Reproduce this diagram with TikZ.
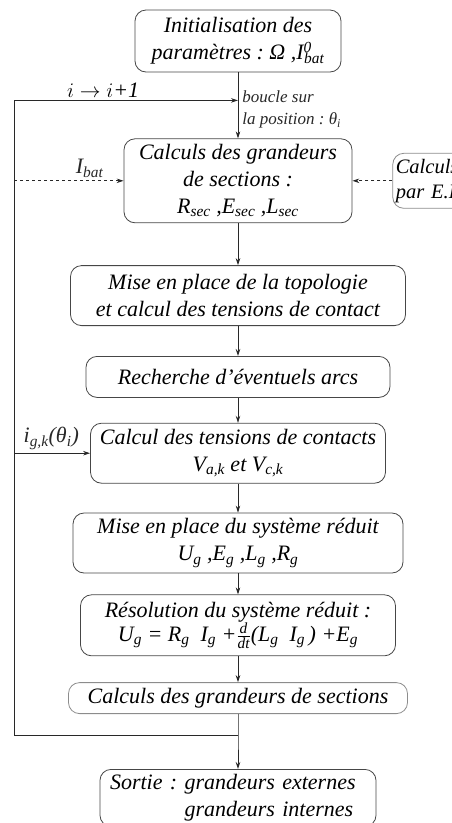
\documentclass[tikz,border=0pt]{standalone}
\usepackage{amsmath}
\usepackage{fontspec}
\setmainfont{Liberation Serif}
\usepackage{tikz}
\usetikzlibrary{arrows.meta, positioning, calc}
\definecolor{cline}{RGB}{40,40,40}
\definecolor{cedge}{RGB}{70,70,70}
\definecolor{cpale}{RGB}{140,140,140}
\newcommand{\sbs}[2]{#1\textsubscript{#2}}
\frenchspacing

\begin{document}
\begin{tikzpicture}[
  node distance = 30pt and 40pt,
  box/.style    = {rectangle, rounded corners=11pt, draw=cedge, line width=0.8pt,
                   align=center, inner sep=2pt,
                   font=\fontsize{22}{27}\selectfont\itshape},
  palebox/.style = {box, draw=cpale},
  arr/.style    = {-{Stealth[length=7pt, width=4.5pt]}, line width=0.8pt, cline},
  lbl/.style    = {font=\fontsize{22}{27}\selectfont\itshape, inner sep=3pt},
  sublbl/.style = {font=\fontsize{17}{22}\selectfont\itshape, inner sep=4pt},
]
\useasboundingbox (0,0) rectangle (451pt,-823pt);

%% --- main column ---
\node[box, minimum width=206pt, minimum height=62pt] (init) at (238pt,-41pt)
  {Initialisation des\\paramètres : Ω ,I\textsuperscript{\rlap{0}}\textsubscript{bat}};
\node[box, minimum width=228pt, minimum height=84pt, below=66pt of init] (secs)
  {Calculs des grandeurs\\de sections :\\\sbs{R}{sec} ,\sbs{E}{sec} ,\sbs{L}{sec}};
\node[box, minimum width=335pt, minimum height=60pt, below=42pt of secs] (topo)
  {Mise en place de la topologie\\et calcul des tensions de contact};
\node[box, minimum width=304pt, minimum height=41pt, below=30pt of topo] (arcs)
  {Recherche d'éventuels arcs};
\node[box, minimum width=295pt, minimum height=60pt, below=25pt of arcs] (cten)
  {Calcul des tensions de contacts\\\sbs{V}{a,k} et \sbs{V}{c,k}};
\node[box, minimum width=330pt, minimum height=60pt, below=29pt of cten] (sysr)
  {Mise en place du système réduit\\\sbs{U}{g} ,\sbs{E}{g} ,\sbs{L}{g} ,\sbs{R}{g}};
\node[box, minimum width=315pt, minimum height=61pt, below=21pt of sysr] (reso)
  {Résolution du système réduit :\\[-3pt]
   \sbs{U}{g} = \sbs{R}{g}\ \ \sbs{I}{g} +$\frac{\text{d}}{\text{dt}}$(\sbs{L}{g}\ \ \sbs{I}{g}\,) +\sbs{E}{g}};
\node[palebox, minimum width=339pt, minimum height=31pt, below=26pt of reso] (gsec)
  {Calculs des grandeurs de sections};
\node[box, text width=256pt, align=left, inner xsep=10pt, inner ysep=5pt,
      below=55pt of gsec] (sort)
  {Sortie : grandeurs externes\\\phantom{Sortie : }grandeurs internes};

%% --- side input ---
\node[palebox, text width=92pt, align=left, inner xsep=3pt, minimum height=55pt,
      font=\fontsize{20.5}{25}\selectfont\itshape,
      right=40pt of secs] (ef) {Calculs\\par E.F.};

%% --- loop points ---
\coordinate[below=28pt of init] (top);
\coordinate[below=21pt of gsec] (jn);
\coordinate (lft) at ($(jn)+(-224pt,0)$);
\coordinate (ltop) at (lft |- top);

%% --- arrows ---
\draw[arr] (init) -- node[sublbl, right, align=left, yshift=-4pt]
  {boucle sur\\la position : \sbs{θ}{i}} (secs);
\draw[arr] (secs) -- (topo);
\draw[arr] (topo) -- (arcs);
\draw[arr] (arcs) -- (cten);
\draw[arr] (cten) -- (sysr);
\draw[arr] (sysr) -- (reso);
\draw[arr] (reso) -- (gsec);
\draw[arr] (gsec) -- (jn) -- (sort);

\draw[arr] (jn) -- (lft) -- (ltop) -- (top);
\node[lbl, anchor=south west] (incr) at ([xshift=50pt]ltop) {$i \rightarrow i$+1};
\draw[arr, dashed] (lft |- secs.west) -- node[lbl, above, pos=0.69] {\sbs{I}{bat}} (secs.west);
\draw[arr, dashed] (ef) -- (secs);
\draw[arr] (lft |- cten.west) -- node[lbl, above, pos=0.49] {\sbs{i}{g,k}(\sbs{θ}{i})} (cten.west);

\end{tikzpicture}
\end{document}
